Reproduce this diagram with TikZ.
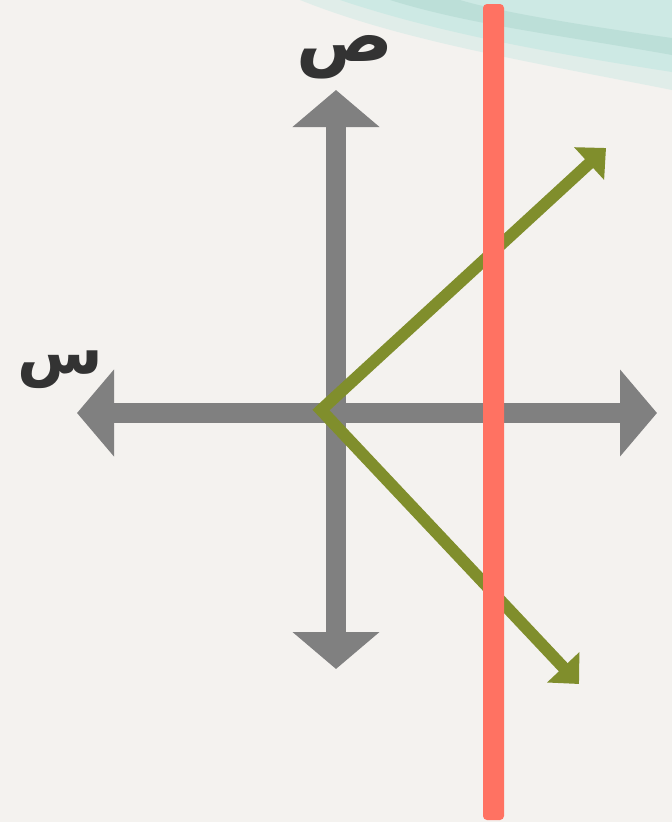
\documentclass[tikz,border=0pt]{standalone}
\usepackage{fontspec}
\usetikzlibrary{arrows.meta}
\newfontfamily\arabicfont[Script=Arabic]{DejaVu Sans}
\TeXXeTstate=1
\definecolor{bgc}{HTML}{F4F2EF}
\definecolor{tealc}{HTML}{CDE9E4}
\definecolor{tealdark}{HTML}{A9D3CB}
\definecolor{axisgray}{HTML}{808080}
\definecolor{olive}{HTML}{808E2C}
\definecolor{redl}{HTML}{FF7262}
\definecolor{txt}{HTML}{333333}
\tikzset{
  axis/.style={draw=axisgray, line width=20pt, -{Triangle[length=37pt,width=85pt]}},
  vec/.style={draw=olive, line width=12pt, line join=miter, {Triangle[length=23pt,width=43pt]}-{Triangle[length=23pt,width=43pt]}},
  lbl/.style={text=txt, font=\arabicfont\bfseries\fontsize{72}{80}\selectfont, inner sep=0pt}
}
\begin{document}
\begin{tikzpicture}[x=1pt,y=-1pt]
\useasboundingbox (0,0) rectangle (672,822);
\fill[bgc] (0,0) rectangle (672,822);
% teal swoosh
\fill[tealc, opacity=0.5] (300,0) .. controls (400,40) and (520,60) .. (672,90) -- (672,0) -- cycle;
\fill[tealc] (340,0) .. controls (430,30) and (530,50) .. (672,72) -- (672,0) -- cycle;
\fill[tealdark, opacity=0.45] (390,0) .. controls (470,25) and (560,35) .. (672,55) -- (672,38) .. controls (580,25) and (500,12) .. (460,0) -- cycle;
% axes
\coordinate (o) at (336,413);
\coordinate (top) at (336,90);
\coordinate (bot) at (336,669);
\coordinate (left) at (77,413);
\coordinate (right) at (657,413);
\draw[axis] (o) -- (top);
\draw[axis] (o) -- (bot);
\draw[axis] (o) -- (left);
\draw[axis] (o) -- (right);
% vectors
\coordinate (v) at (321,410);
\coordinate (ua) at (606,148);
\coordinate (la) at (579,684);
\draw[vec] (ua) -- (v) -- (la);
% red line
\fill[redl, rounded corners=4pt] (483,4) rectangle (504,820);
% labels
\node[lbl] (y) at (345,57) {\beginR ص\endR};
\node[lbl, font=\arabicfont\bfseries\fontsize{62}{70}\selectfont] (x) at (60,370) {\beginR س\endR};
\end{tikzpicture}
\end{document}
